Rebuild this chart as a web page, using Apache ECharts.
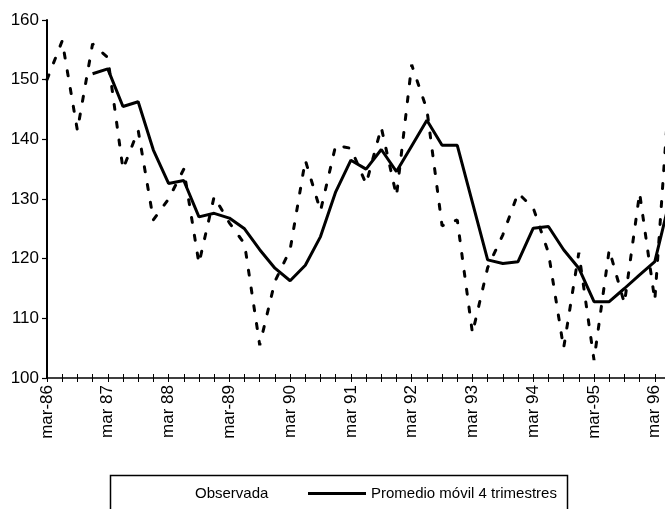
<!DOCTYPE html>
<html>
<head>
<meta charset="utf-8">
<script src="https://cdn.jsdelivr.net/npm/echarts@6/dist/echarts.min.js"></script>
<style>
  html, body { margin: 0; padding: 0; background: #fff; overflow: hidden; }
  /* the plot runs one quarter past the right edge of the window */
  #chart { width: 671px; height: 509px; }
</style>
</head>
<body>
<div id="chart"></div>
<script>
// Quarterly index, March 1986 to June 1996
const quarters = [
  'mar-86', 'jun-86', 'sep-86', 'dic-86',
  'mar 87', 'jun-87', 'sep-87', 'dic-87',
  'mar 88', 'jun-88', 'sep-88', 'dic-88',
  'mar-89', 'jun-89', 'sep-89', 'dic-89',
  'mar 90', 'jun-90', 'sep-90', 'dic-90',
  'mar 91', 'jun-91', 'sep-91', 'dic-91',
  'mar 92', 'jun-92', 'sep-92', 'dic-92',
  'mar 93', 'jun-93', 'sep-93', 'dic-93',
  'mar 94', 'jun-94', 'sep-94', 'dic-94',
  'mar-95', 'jun-95', 'sep-95', 'dic-95',
  'mar 96', 'jun-96'
];

// Observed values
const observada = [
  150.0, 156.5, 141.5, 156.0,
  153.7, 135.0, 141.5, 126.5,
  130.0, 135.0, 119.2, 130.4,
  126.0, 122.5, 105.5, 116.2,
  121.5, 136.5, 128.0, 139.0,
  138.5, 132.5, 142.0, 130.5,
  152.5, 145.0, 125.5, 126.5,
  107.5, 118.5, 124.0, 131.0,
  128.5, 121.0, 105.0, 121.0,
  103.0, 121.5, 112.5, 131.0,
  113.0, 150.0
];

// Four-quarter moving average
const promedio = [
  null, null, null, 151.0,
  151.8, 145.5, 146.3, 138.2,
  132.6, 133.1, 127.0, 127.6,
  126.8, 125.0, 121.5, 118.4,
  116.3, 118.9, 123.7, 131.2,
  136.5, 135.0, 138.3, 134.6,
  138.9, 143.2, 139.0, 139.0,
  129.4, 119.8, 119.2, 119.5,
  125.1, 125.4, 121.5, 118.4,
  112.8, 112.8, 115.0, 117.3,
  119.5, 130.0
];

const yTicks = { min: 100, max: 160, step: 10 };

const serieObs = 'Observada';
const seriePro = 'Promedio móvil 4 trimestres';

const FONT = "'Liberation Sans', Arial, sans-serif";

const chart = echarts.init(document.getElementById('chart'), null, { renderer: 'canvas' });

chart.setOption({
  animation: false,
  backgroundColor: '#fff',
  textStyle: { fontFamily: FONT, color: '#000' },
  grid: { left: 47, right: 1, top: 20, bottom: 131, containLabel: false },
  legend: [
    {
      data: [serieObs],
      left: 185, top: 481,
      icon: 'none', itemWidth: 0, itemHeight: 14,
      selectedMode: false,
      textStyle: { fontSize: 15, color: '#000', fontFamily: FONT }
    },
    {
      data: [{ name: seriePro, icon: 'rect' }],
      left: 303, top: 481,
      itemWidth: 58, itemHeight: 3,
      selectedMode: false,
      itemStyle: { color: '#000', borderWidth: 0 },
      textStyle: { fontSize: 15, color: '#000', fontFamily: FONT }
    }
  ],
  graphic: [
    {
      type: 'rect', left: 108, top: 473, silent: true,
      shape: { width: 457, height: 60 },
      style: { fill: 'none', stroke: '#000', lineWidth: 1.5 }
    }
  ],
  xAxis: [
    {
      type: 'category', data: quarters, boundaryGap: false,
      axisLine: { lineStyle: { color: '#000', width: 1.5 } },
      axisTick: { interval: 0, length: 4, lineStyle: { color: '#000', width: 1 } },
      axisLabel: {
        interval: 3, rotate: 90, margin: 7,
        fontSize: 17, color: '#000', fontFamily: FONT
      },
      splitLine: { show: false }
    },
    {
      type: 'category', data: quarters, boundaryGap: false, position: 'bottom',
      axisLine: { show: false },
      axisTick: { interval: 0, inside: true, length: 4, lineStyle: { color: '#000', width: 1 } },
      axisLabel: { show: false },
      splitLine: { show: false }
    }
  ],
  yAxis: {
    type: 'value', min: yTicks.min, max: yTicks.max, interval: yTicks.step,
    axisLine: { show: true, lineStyle: { color: '#000', width: 2 } },
    axisTick: { show: true, length: 5, lineStyle: { color: '#000', width: 1.2 } },
    axisLabel: { fontSize: 17, color: '#000', margin: 8, fontFamily: FONT },
    splitLine: { show: false }
  },
  series: [
    {
      name: serieObs, type: 'line', data: observada,
      xAxisIndex: 0, symbol: 'none', smooth: false,
      lineStyle: { color: '#000', width: 3, type: [5, 13], cap: 'round' },
      itemStyle: { color: '#000' }
    },
    {
      name: seriePro, type: 'line', data: promedio,
      xAxisIndex: 0, symbol: 'none', smooth: false, connectNulls: false,
      lineStyle: { color: '#000', width: 3 },
      itemStyle: { color: '#000' }
    }
  ]
});
</script>
</body>
</html>
